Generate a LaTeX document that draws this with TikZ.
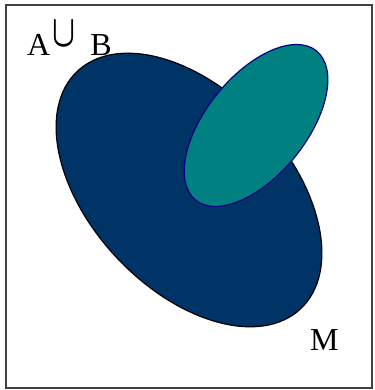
\documentclass[tikz,border=0pt]{standalone}
\usepackage{fontspec}
\setmainfont{Liberation Serif}
\usepackage{tikz}
\usetikzlibrary{positioning}
\definecolor{navyset}{HTML}{003366}
\definecolor{tealset}{HTML}{008080}
\definecolor{edgeset}{HTML}{000080}
\definecolor{frame}{HTML}{404040}

\begin{document}
\begin{tikzpicture}[x=1pt, y=1pt,
  lbl/.style={font=\fontsize{32}{38}\selectfont, inner sep=0pt, anchor=base west},
  setM/.style={fill=navyset, draw=black, line width=1.2pt},
  setAB/.style={fill=tealset, draw=edgeset, line width=1.2pt}
]
\useasboundingbox (0,0) rectangle (374,390);
% frame
\draw[frame, line width=1.5pt] (6,2) rectangle (372,385);
% the big set
\draw[setM, rotate around={-46.8:(189,200)}] (189,200) ellipse [x radius=163, y radius=99];
% the union
\draw[setAB, rotate around={51:(256,264.5)}] (256,264.5) ellipse [x radius=96, y radius=50];
% labels
\node[lbl] (union) at (27,334)
  {A\hspace{2pt}\raisebox{9pt}{\resizebox{23pt}{25pt}{\boldmath$\cup$}}\hspace{15pt}B};
\node[lbl] (setname) at (310,39) {M};
\end{tikzpicture}
\end{document}
